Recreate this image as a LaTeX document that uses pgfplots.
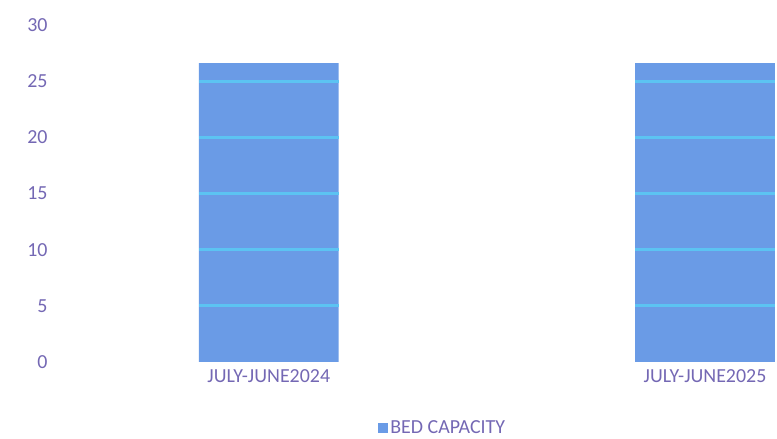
\documentclass[border=0pt]{standalone}
\usepackage{pgfplots}
\pgfplotsset{compat=1.18}
\usepackage{fontspec}
\setmainfont{Carlito}
\definecolor{barc}{HTML}{6A9BE6}
\definecolor{gridc}{HTML}{5CC3F2}
\definecolor{labc}{HTML}{7468B4}
\begin{document}
\begin{tikzpicture}
\useasboundingbox (0,0) rectangle (777bp,439bp);
\begin{axis}[
  at={(55bp,77bp)}, anchor=south west,
  scale only axis, width=722bp, height=337bp,
  xmin=-0.49, xmax=1.165, ymin=0, ymax=30,
  ytick={0,5,...,30},
  xtick={0,1}, xticklabels={JULY-JUNE2024,JULY-JUNE2025},
  axis line style={draw=none}, tick style={draw=none},
  ticklabel style={font=\fontsize{20}{23}\selectfont, text=labc},
  /pgf/number format/assume math mode=true,
  yticklabel style={xshift=-4bp},
  xticklabel style={yshift=-4bp},
  legend style={at={(0.537,-0.196)}, anchor=center, draw=none, fill=none,
    font=\fontsize{20}{23}\selectfont, text=labc},
  legend image code/.code={\fill[barc] (0bp,-4.5bp) rectangle (10bp,5bp);},
]
\addplot[ybar, bar width=0.32, fill=barc, draw=none] coordinates {(0,26.6) (1,26.6)};
\addlegendentry{BED CAPACITY}
\pgfplotsinvokeforeach{5,10,15,20,25}{
  \addplot[gridc, line width=3bp, forget plot] coordinates {(-0.16,#1) (0.16,#1)};
  \addplot[gridc, line width=3bp, forget plot] coordinates {(0.84,#1) (1.16,#1)};
}
\end{axis}
\end{tikzpicture}
\end{document}
